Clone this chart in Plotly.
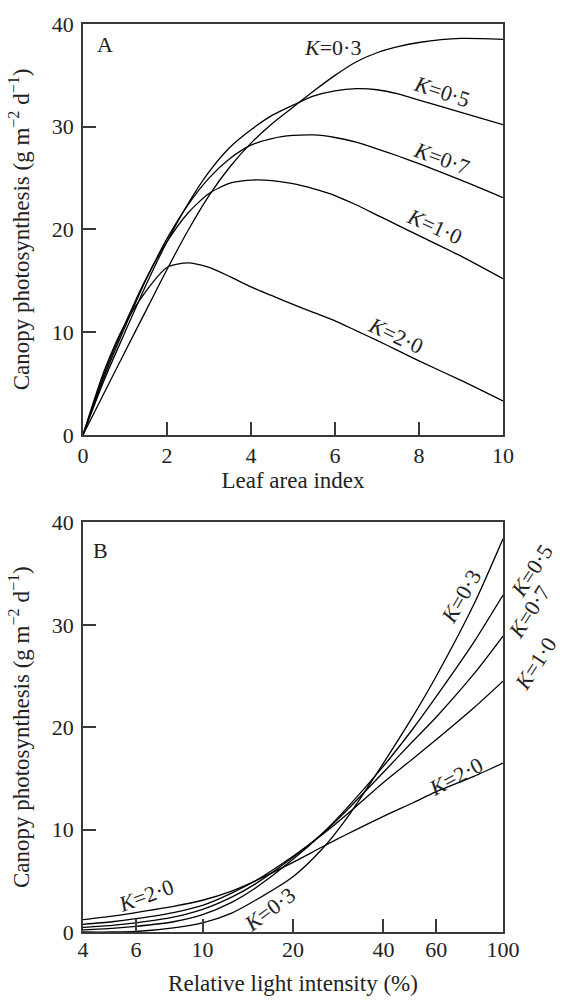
import math
import plotly.graph_objects as go

# ---------------- Panel A data: canopy photosynthesis vs leaf area index
LAI = [0, 0.5, 1, 1.5, 2, 2.5, 3, 3.5, 4, 4.5, 5, 5.5, 6, 6.5, 7, 7.5, 8, 9, 10]
A_K03 = [0, 4.05, 8.1, 12.1, 16.1, 19.9, 23.3, 26.1, 28.4, 30.3, 31.9, 33.5, 35.0, 36.3, 37.2, 37.8, 38.2, 38.6, 38.5]
A_K05 = [0, 5.3, 10.0, 14.6, 18.8, 22.5, 25.6, 28.0, 29.7, 31.1, 32.1, 33.0, 33.5, 33.7, 33.6, 33.2, 32.6, 31.4, 30.2]
A_K07 = [0, 5.6, 10.5, 15.1, 19.1, 22.4, 25.0, 26.9, 28.2, 28.85, 29.15, 29.2, 28.95, 28.5, 27.85, 27.15, 26.4, 24.8, 23.1]
A_K10 = [0, 5.9, 10.8, 15.2, 18.8, 21.6, 23.5, 24.5, 24.8, 24.75, 24.45, 23.95, 23.3, 22.4, 21.4, 20.4, 19.4, 17.4, 15.2]
A_K20 = [0, 6.2, 10.8, 14.0, 16.3, 16.75, 16.3, 15.4, 14.4, 13.55, 12.7, 11.9, 11.1, 10.15, 9.2, 8.2, 7.2, 5.3, 3.3]

# ---------------- Panel B data: canopy photosynthesis vs relative light intensity (%)
LIGHT = [4, 5, 6, 8, 10, 12.5, 15, 20, 25, 30, 40, 50, 60, 80, 100]
B_K03 = [0.0, 0.0, 0.05, 0.4, 0.9, 1.85, 3.1, 5.4, 8.1, 11.0, 16.5, 21.0, 25.0, 32.0, 38.4]
B_K05 = [0.2, 0.35, 0.55, 1.0, 1.7, 2.9, 4.3, 7.1, 9.6, 12.0, 16.2, 19.8, 23.0, 28.3, 32.9]
B_K07 = [0.45, 0.65, 0.9, 1.45, 2.2, 3.4, 4.7, 7.3, 9.6, 11.8, 15.6, 18.6, 21.0, 25.2, 28.9]
B_K10 = [0.75, 1.0, 1.3, 1.9, 2.6, 3.8, 5.0, 7.4, 9.5, 11.4, 14.6, 16.9, 18.8, 21.9, 24.5]
B_K20 = [1.2, 1.55, 1.9, 2.5, 3.1, 4.0, 5.0, 6.8, 8.3, 9.5, 11.3, 12.6, 13.7, 15.2, 16.5]

A_TICKS = [0, 2, 4, 6, 8, 10]
Y_TICKS = [0, 10, 20, 30, 40]
B_TICKS = [4, 6, 10, 20, 40, 60, 100]

FONT = "Liberation Serif"
INK = "#222222"
AX = "#3a3a3a"
FS = 22

fig = go.Figure()
line = dict(color="black", width=1.3, shape="spline", smoothing=0.7)
for ys in [A_K03, A_K05, A_K07, A_K10, A_K20]:
    fig.add_trace(go.Scatter(x=LAI, y=ys, mode="lines", line=line, xaxis="x", yaxis="y",
                             showlegend=False, hoverinfo="skip"))
for ys in [B_K03, B_K05, B_K07, B_K10, B_K20]:
    fig.add_trace(go.Scatter(x=LIGHT, y=ys, mode="lines", line=line, xaxis="x2", yaxis="y2",
                             showlegend=False, hoverinfo="skip"))

axis_common = dict(showline=True, linecolor=AX, linewidth=1.6, mirror=True,
                   ticks="inside", ticklen=13, tickwidth=1.5, tickcolor=AX,
                   showgrid=False, zeroline=False,
                   tickfont=dict(family=FONT, size=FS, color=INK))

ytitle = "Canopy photosynthesis (g m<sup>−2</sup> d<sup>−1</sup>)"
tfont = dict(family=FONT, size=23, color=INK)

fig.update_layout(
    width=568, height=1004,
    margin=dict(l=83, r=65, t=12, b=61),
    paper_bgcolor="white", plot_bgcolor="white",
    font=dict(family=FONT, size=FS, color=INK),
    xaxis=dict(domain=[0, 1], range=[0, 10], anchor="y", tickvals=A_TICKS,
               title=dict(text="Leaf area index", font=tfont, standoff=3),
               ticklabelstandoff=0, **axis_common),
    yaxis=dict(domain=[0.5475, 1], range=[0, 40], anchor="x", tickvals=Y_TICKS,
               title=dict(text=ytitle, font=tfont, standoff=16),
               ticklabelstandoff=3, **axis_common),
    xaxis2=dict(domain=[0, 1], type="log", range=[math.log10(4), 2], anchor="y2",
                tickvals=B_TICKS, ticktext=[str(v) for v in B_TICKS],
                title=dict(text="Relative light intensity (%)", font=tfont, standoff=14),
                ticklabelstandoff=-3, **axis_common),
    yaxis2=dict(domain=[0, 0.4511], range=[0, 40], anchor="x2", tickvals=Y_TICKS,
                title=dict(text=ytitle, font=tfont, standoff=16),
                ticklabelstandoff=3, **axis_common),
)

def ann(text, x, y, xref, yref, angle=0, size=FS):
    fig.add_annotation(text=text, x=x, y=y, xref=xref, yref=yref, showarrow=False,
                       textangle=angle, xanchor="center", yanchor="middle",
                       font=dict(family=FONT, size=size, color=INK))

# Panel A labels
ann("A", 0.52, 38.0, "x", "y")
ann("<i>K</i>=0·3", 5.93, 37.7, "x", "y", 0)
ann("<i>K</i>=0·5", 8.54, 33.4, "x", "y", 18)
ann("<i>K</i>=0·7", 8.54, 26.9, "x", "y", 20)
ann("<i>K</i>=1·0", 8.38, 20.3, "x", "y", 24)
ann("<i>K</i>=2·0", 7.45, 9.65, "x", "y", 25)

# Panel B labels (log axis -> log10 positions)
L = math.log10
ann("B", L(4.56), 37.3, "x2", "y2")
ann("<i>K</i>=0·3", L(72.4), 32.8, "x2", "y2", -60)
ann("<i>K</i>=2·0", L(69.7), 15.2, "x2", "y2", -28)
ann("<i>K</i>=2·0", L(6.48), 3.6, "x2", "y2", -20)
ann("<i>K</i>=0·3", L(16.7), 2.2, "x2", "y2", -37)
# labels just outside the right edge of panel B (axis-domain fractions)
ann("<i>K</i>=0·5", 1.069, 35.3 / 40, "x2 domain", "y2 domain", -57)
ann("<i>K</i>=0·7", 1.062, 31.2 / 40, "x2 domain", "y2 domain", -57)
ann("<i>K</i>=1·0", 1.078, 26.2 / 40, "x2 domain", "y2 domain", -57)

fig.write_html("out.html")
